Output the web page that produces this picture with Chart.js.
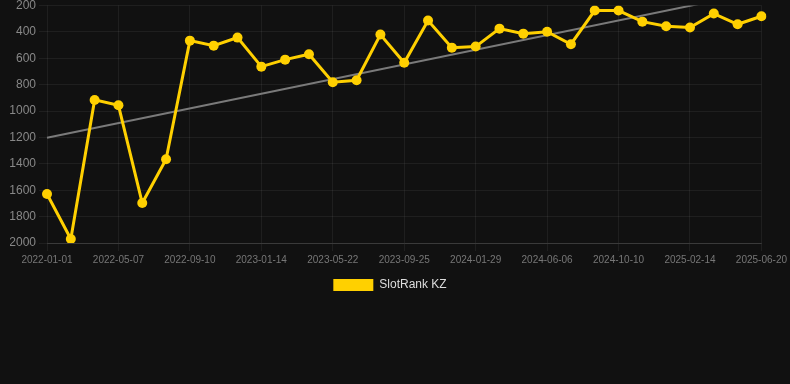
<!DOCTYPE html>
<html>
<head>
<meta charset="utf-8">
<script src="https://cdn.jsdelivr.net/npm/chart.js@4/dist/chart.umd.min.js"></script>
<style>
html,body{margin:0;padding:0;background:#111111;}
#wrap{position:relative;width:790px;height:301px;}
</style>
</head>
<body>
<div id="wrap"><canvas id="c"></canvas></div>
<script>
const dates = [
  "2022-01-01","2022-02-12","2022-03-26","2022-05-07","2022-06-18","2022-07-30",
  "2022-09-10","2022-10-22","2022-12-03","2023-01-14","2023-02-25","2023-04-09",
  "2023-05-22","2023-07-03","2023-08-14","2023-09-25","2023-11-06","2023-12-18",
  "2024-01-29","2024-03-12","2024-04-24","2024-06-06","2024-07-18","2024-08-29",
  "2024-10-10","2024-11-21","2025-01-03","2025-02-14","2025-03-28","2025-05-09",
  "2025-06-20"
];
const rankKZ = [
  1629, 1970, 916, 957, 1697, 1366,
  467, 505, 444, 664, 611, 570,
  782, 767, 421, 635, 315, 520,
  512, 376, 414, 399, 494, 239,
  239, 323, 358, 368, 262, 343,
  282
];
const trendStart = 1202;
const trendEnd = 92;
const yTicks = [200, 400, 600, 800, 1000, 1200, 1400, 1600, 1800, 2000];

new Chart(document.getElementById('c'), {
  type: 'line',
  data: {
    labels: dates,
    datasets: [
      {
        label: 'SlotRank KZ',
        data: rankKZ,
        borderColor: '#FFD000',
        backgroundColor: '#FFD000',
        borderWidth: 3,
        pointRadius: 5,
        pointHoverRadius: 5,
        pointBackgroundColor: '#FFD000',
        pointBorderWidth: 0,
        tension: 0
      },
      {
        label: 'trend',
        data: [{x: dates[0], y: trendStart}, {x: dates[dates.length - 1], y: trendEnd}],
        borderColor: '#7a7a7a',
        borderWidth: 2,
        pointRadius: 0,
        fill: false
      }
    ]
  },
  options: {
    responsive: true,
    maintainAspectRatio: false,
    animation: false,
    layout: { padding: { left: 10, right: 20, top: 0 } },
    plugins: {
      legend: {
        position: 'bottom',
        labels: {
          color: '#dddddd',
          font: { family: 'Liberation Sans, Arial, sans-serif', size: 12 },
          boxWidth: 40,
          boxHeight: 12,
          generateLabels: (chart) => Chart.defaults.plugins.legend.labels.generateLabels(chart)
            .filter(it => it.text !== 'trend')
            .map(it => Object.assign(it, { lineWidth: 0, strokeStyle: 'rgba(0,0,0,0)' }))
        }
      },
      tooltip: { enabled: false }
    },
    scales: {
      x: {
        type: 'category',
        grid: { color: 'rgba(255,255,255,0.06)', tickColor: 'rgba(255,255,255,0.06)' },
        border: { color: 'rgba(255,255,255,0.12)' },
        ticks: {
          color: '#777777',
          font: { family: 'Liberation Sans, Arial, sans-serif', size: 10 },
          maxRotation: 0,
          autoSkip: true
        }
      },
      y: {
        reverse: true,
        min: 200,
        max: 2000,
        afterBuildTicks: (axis) => { axis.ticks = yTicks.map(v => ({ value: v })); },
        afterFit: (axis) => { axis.width = 37; },
        grid: { color: 'rgba(255,255,255,0.06)', tickColor: 'rgba(255,255,255,0.06)' },
        border: { display: false },
        ticks: {
          color: '#888888',
          font: { family: 'Liberation Sans, Arial, sans-serif', size: 12, lineHeight: 0.4 },
          callback: (v) => String(v)
        }
      }
    }
  }
});
</script>
</body>
</html>
